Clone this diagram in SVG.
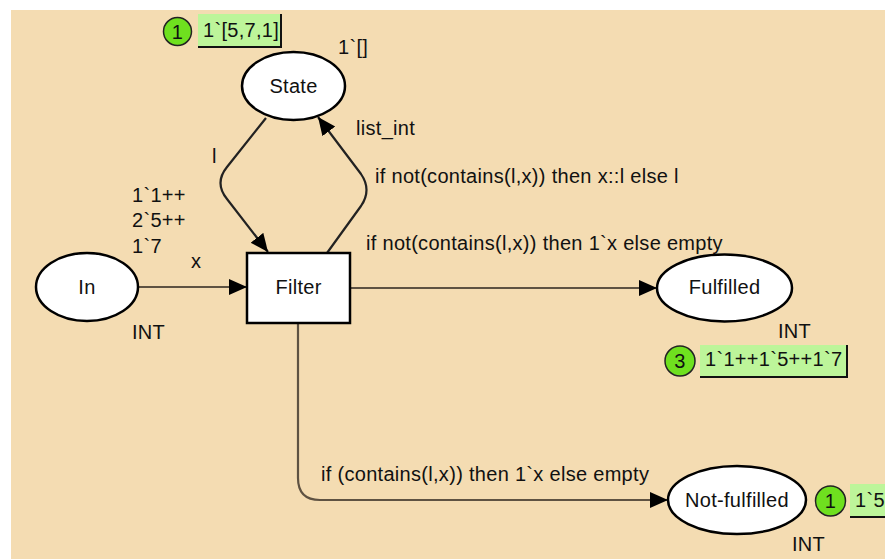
<svg xmlns="http://www.w3.org/2000/svg" width="885" height="559" viewBox="0 0 885 559">
<defs>
<style>
text{font-family:"Liberation Sans",Arial,sans-serif;font-size:20px;fill:#111;letter-spacing:0.3px}
.c{text-anchor:middle}
.place{fill:#fff;stroke:#000;stroke-width:2.5}
.trans{fill:#fff;stroke:#000;stroke-width:2.5}
.arc{fill:none;stroke:#222;stroke-width:2.2}
.arc2{fill:none;stroke:#5e5242;stroke-width:2.2}
.tok{fill:#6fe01f;stroke:#222;stroke-width:1.5}
.mk{fill:#bdf59a}
.mks{fill:none;stroke:#111;stroke-width:2}
</style>
<marker id="ah" markerUnits="userSpaceOnUse" markerWidth="19" markerHeight="17" refX="18" refY="8" orient="auto">
<path d="M0,0 L18,8 L0,16 z" fill="#000"/>
</marker>
</defs>
<rect x="0" y="0" width="885" height="559" fill="#fff"/>
<rect x="11" y="10" width="874" height="549" fill="#f4dcb2"/>

<g id="connectors">
<path class="arc2" d="M138,287 L247,287" marker-end="url(#ah)"/>
<path class="arc2" d="M350,288 L657,288" marker-end="url(#ah)"/>
<path class="arc2" d="M298,323 L298,478 Q298,500 320,500 L668,500" marker-end="url(#ah)"/>
<path class="arc" d="M266,118 L227,167 Q214,183 227,199 L268,252" marker-end="url(#ah)"/>
<path class="arc" d="M327,253 L361,206 Q372,190 361,174 L318,117" marker-end="url(#ah)"/>
<text x="212" y="163">l</text>
<text x="356" y="135">list_int</text>
<text x="375" y="183">if not(contains(l,x)) then x::l else l</text>
<text x="191" y="268">x</text>
<text x="366" y="250">if not(contains(l,x)) then 1`x else empty</text>
<text x="321" y="481">if (contains(l,x)) then 1`x else empty</text>
</g>

<g id="State">
<ellipse class="place" cx="293.5" cy="86" rx="51.5" ry="34"/>
<text class="c" x="293.5" y="93">State</text>
<text x="338" y="54">1`[]</text>
<circle class="tok" cx="177.5" cy="31.5" r="14"/>
<text class="c" x="177.5" y="38.5">1</text>
<rect class="mk" x="198" y="14" width="83" height="33"/>
<path class="mks" d="M198,47 L281,47 L281,14"/>
<text x="203" y="37">1`[5,7,1]</text>
</g>

<g id="In">
<ellipse class="place" cx="87" cy="287" rx="51" ry="34"/>
<text class="c" x="87" y="294">In</text>
<text x="132" y="339">INT</text>
<text x="132" y="202">1`1++</text>
<text x="132" y="227">2`5++</text>
<text x="132" y="253">1`7</text>
</g>

<g id="Filter">
<rect class="trans" x="247" y="253" width="103" height="70"/>
<text class="c" x="298.5" y="294">Filter</text>
</g>

<g id="Fulfilled">
<ellipse class="place" cx="724.5" cy="288" rx="67.5" ry="33.5"/>
<text class="c" x="724.5" y="294">Fulfilled</text>
<text x="778" y="338">INT</text>
<circle class="tok" cx="680" cy="361" r="15"/>
<text class="c" x="680" y="368">3</text>
<rect class="mk" x="700" y="345" width="147" height="32"/>
<path class="mks" d="M700,377 L847,377 L847,345"/>
<text x="705" y="366">1`1++1`5++1`7</text>
</g>

<g id="Not-fulfilled">
<ellipse class="place" cx="737" cy="500" rx="69" ry="34"/>
<text class="c" x="737" y="507">Not-fulfilled</text>
<text x="792" y="551">INT</text>
<circle class="tok" cx="830.5" cy="501" r="15"/>
<text class="c" x="830.5" y="508">1</text>
<rect class="mk" x="850" y="484" width="40" height="33"/>
<path class="mks" d="M850,517 L890,517"/>
<text x="855" y="507">1`5</text>
</g>
</svg>
